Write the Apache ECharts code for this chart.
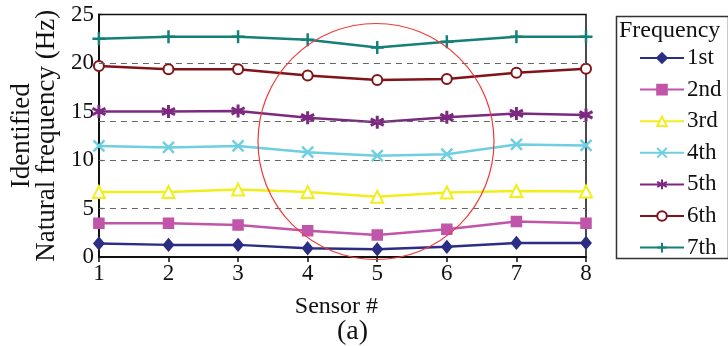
<!DOCTYPE html>
<html>
<head>
<meta charset="utf-8">
<script src="https://cdn.jsdelivr.net/npm/echarts@6/dist/echarts.min.js"></script>
<style>
  html, body { margin: 0; padding: 0; background: #fff; }
  #chart { width: 728px; height: 346px; }
</style>
</head>
<body>
<div id="chart"></div>
<script>
// data
const sensors = [1, 2, 3, 4, 5, 6, 7, 8]
const yTicks = [0, 5, 10, 15, 20, 25]
const dashedLevels = [5, 10, 14, 20]
const seriesNames = ['1st', '2nd', '3rd', '4th', '5th', '6th', '7th']
const f1 = [1.4, 1.25, 1.25, 0.9, 0.8, 1.05, 1.45, 1.45]
const f2 = [3.47, 3.47, 3.3, 2.7, 2.27, 2.85, 3.65, 3.47]
const f3 = [6.7, 6.7, 6.95, 6.7, 6.2, 6.65, 6.8, 6.75]
const f4 = [11.45, 11.3, 11.45, 10.8, 10.45, 10.6, 11.6, 11.5]
const f5 = [15.0, 15.0, 15.05, 14.36, 13.9, 14.4, 14.8, 14.65]
const f6 = [19.7, 19.35, 19.35, 18.7, 18.25, 18.35, 19.0, 19.4]
const f7 = [22.5, 22.7, 22.7, 22.4, 21.6, 22.2, 22.7, 22.7]
const allValues = [f1, f2, f3, f4, f5, f6, f7]

const colors = ['#2b2e84', '#c055aa', '#f2ee1e', '#6fcfe0', '#7b2a80', '#801418', '#148079']
const symbols = [
  'diamond',
  'rect',
  'emptyTriangle',
  'path://M0,0L10,10M10,0L0,10',
  'path://M5,0L5,10M0.7,2.5L9.3,7.5M9.3,2.5L0.7,7.5',
  'emptyCircle',
  'path://M5,0L5,10M0,5L10,5'
]
const symbolSizes = [[10, 12], 10, 12, 11, 13, 10, 13]
const symbolBorders = [1.5, 1.5, 1.5, 2.5, 3, 1.8, 2.5]

const font = 'Liberation Serif'

const chart = echarts.init(document.getElementById('chart'))

const series = seriesNames.map((name, i) => {
  const s = {
    name: name,
    type: 'line',
    data: sensors.map((x, k) => [x, allValues[i][k]]),
    symbol: symbols[i],
    symbolSize: symbolSizes[i],
    z: 3,
    lineStyle: { color: colors[i], width: 2.5 },
    itemStyle: {
      color: colors[i],
      borderColor: colors[i],
      borderWidth: symbolBorders[i]
    }
  }
  // dashed reference lines
  if (i === 0) {
    s.markLine = {
      silent: true,
      symbol: 'none',
      label: { show: false },
      lineStyle: { color: '#666', type: [6, 5], width: 1.2 },
      data: dashedLevels.map(v => ({ yAxis: v }))
    }
  }
  return s
})

const option = {
  animation: false,
  grid: {
    left: 96,
    right: 142,
    top: 14.5,
    bottom: 89,
    show: true,
    borderColor: '#111',
    borderWidth: 1.5,
    backgroundColor: 'transparent'
  },
  xAxis: {
    type: 'value',
    min: 1,
    max: 8,
    interval: 1,
    name: 'Sensor #',
    nameLocation: 'middle',
    nameGap: 38,
    nameTextStyle: { fontFamily: font, fontSize: 24, color: '#111', padding: [0, 12, 0, 0] },
    axisLine: { lineStyle: { color: '#111', width: 2 } },
    axisTick: { show: true, length: 5, lineStyle: { color: '#111', width: 1.5 } },
    axisLabel: { fontFamily: font, fontSize: 23, color: '#111', margin: 5 },
    splitLine: { show: false }
  },
  yAxis: {
    type: 'value',
    min: yTicks[0],
    max: yTicks[yTicks.length - 1],
    interval: 5,
    name: 'Identified\nNatural frequency (Hz)',
    nameLocation: 'middle',
    nameGap: 26,
    nameTextStyle: { fontFamily: font, fontSize: 27, color: '#111', lineHeight: 25 },
    axisLine: { show: true, lineStyle: { color: '#111', width: 2 } },
    axisTick: { show: true, inside: true, length: 4, lineStyle: { color: '#111', width: 1.2 } },
    axisLabel: { fontFamily: font, fontSize: 23, color: '#111', margin: 5 },
    splitLine: { show: false }
  },
  legend: {
    orient: 'vertical',
    left: 634,
    top: 41,
    itemWidth: 44,
    itemHeight: 12,
    itemGap: 7.6,
    data: seriesNames,
    textStyle: { fontFamily: font, fontSize: 23, lineHeight: 24, color: '#111', padding: [0, 0, 0, -2] }
  },
  graphic: [
    {
      type: 'rect',
      left: 614,
      top: 14,
      shape: { width: 112, height: 242 },
      style: { fill: 'none', stroke: '#333', lineWidth: 1.5 }
    },
    {
      type: 'text',
      left: 619,
      top: 19,
      style: { text: 'Frequency', font: '24px "Liberation Serif"', fill: '#111' }
    },
    {
      type: 'circle',
      shape: { cx: 376, cy: 141.5, r: 118 },
      style: { fill: 'none', stroke: '#f03a3a', lineWidth: 1.2 },
      z: 10
    },
    {
      type: 'text',
      left: 337,
      top: 318,
      style: { text: '(a)', font: '28px "Liberation Serif"', fill: '#111' }
    }
  ],
  series: series
}

chart.setOption(option)
</script>
</body>
</html>
